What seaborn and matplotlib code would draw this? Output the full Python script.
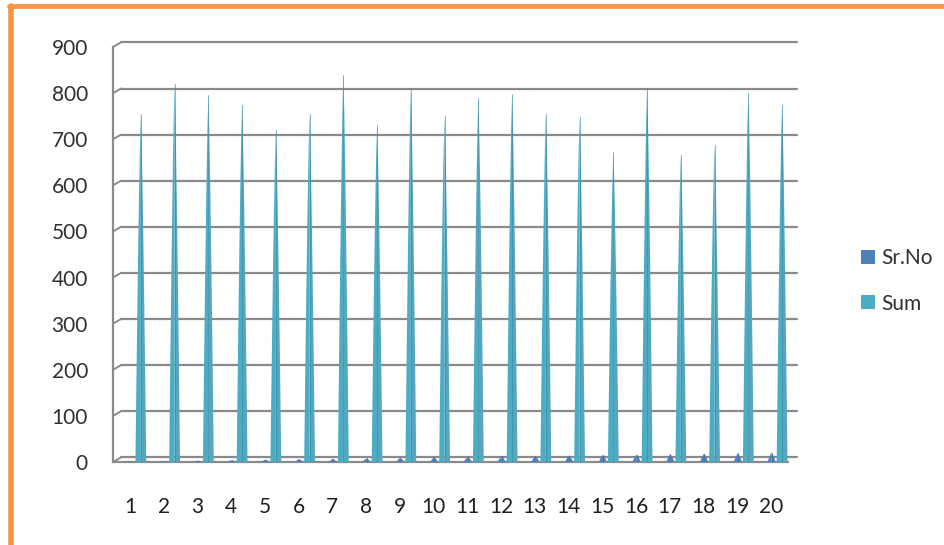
import numpy as np
import pandas as pd
import matplotlib
matplotlib.use("Agg")
import matplotlib.pyplot as plt
import matplotlib.patches as mpatches
from matplotlib.lines import Line2D
from matplotlib.transforms import blended_transform_factory
import seaborn as sns

# data
CATEGORIES = [str(i) for i in range(1, 21)]
SR_NO = [1, 2, 3, 4, 5, 6, 7, 8, 9, 10, 11, 12, 13, 14, 15, 16, 17, 18, 19, 20]
SUM = [755, 820, 795, 775, 720, 755, 840, 730, 810, 750,
       790, 797, 755, 748, 672, 812, 665, 688, 800, 775]
SERIES = ["Sr.No", "Sum"]
COLORS = ["#4f81bd", "#4bacc6"]
Y_TICKS = list(range(0, 901, 100))

df = pd.DataFrame({
    "cat": CATEGORIES * 2,
    "value": SR_NO + SUM,
    "series": [SERIES[0]] * len(CATEGORIES) + [SERIES[1]] * len(CATEGORIES),
})

sns.set_style("white")
plt.rcParams["font.family"] = ["Lato", "DejaVu Sans"]
GRID = "#8a8a8a"
FS = 15

fig = plt.figure(figsize=(9.45, 5.45), dpi=100)
ax = fig.add_axes([113 / 945, 1 - 462 / 545, (788 - 113) / 945, (462 - 47) / 545])

sns.barplot(data=df, x="cat", y="value", hue="series", order=CATEGORIES,
            hue_order=SERIES, palette=COLORS, width=0.62, ax=ax, legend=False)

# turn each bar into a cone-like spike, shifted right a little for the 3D depth
cone_w = {COLORS[0]: 0.24, COLORS[1]: 0.32}
depth = 0.17
f = np.linspace(0, 1, 12)
prof = (1 - f) ** 0.75
for container, col in zip(ax.containers, COLORS):
    dark = "#2f86a3" if col == COLORS[1] else "#36609a"
    for bar in container:
        cx = bar.get_x() + bar.get_width() / 2 + depth
        h = bar.get_height()
        bar.remove()
        w = cone_w[col]
        left = np.column_stack([cx - prof * w / 2, f * h])
        right = np.column_stack([cx + prof[::-1] * w / 2, f[::-1] * h])
        ax.add_patch(mpatches.Polygon(np.vstack([left, [[cx, 0]]]), closed=True,
                                      facecolor=col, edgecolor="none", zorder=3))
        ax.add_patch(mpatches.Polygon(np.vstack([[[cx, 0]], right]), closed=True,
                                      facecolor=sns.desaturate(col, 0.85), edgecolor="none", zorder=3))
        ax.plot([cx, cx], [0, h], color=dark, lw=0.7, alpha=0.6, zorder=4)

ax.set_xlim(-0.5, len(CATEGORIES) - 0.5)
ax.set_ylim(0, 900)
ax.set_yticks(Y_TICKS)
ax.set_yticklabels([str(v) for v in Y_TICKS], fontsize=FS, color="#303030")
ax.set_xticks(range(len(CATEGORIES)))
ax.set_xticklabels(CATEGORIES, fontsize=FS, color="#202020")
ax.set_xlabel("")
ax.set_ylabel("")

# back-wall gridlines with a short slant from the front axis
bt = blended_transform_factory(ax.transAxes, ax.transData)
slant_x = 8 / 675
lift = 10
for v in Y_TICKS:
    ax.plot([0, slant_x], [v, v + lift], transform=bt, color=GRID, lw=1.4,
            clip_on=False, zorder=1)
    ax.plot([slant_x, 1 + 9 / 675], [v + lift, v + lift], transform=bt, color=GRID,
            lw=1.6, clip_on=False, zorder=1)

for side in ["top", "right"]:
    ax.spines[side].set_visible(False)
for side in ["left", "bottom"]:
    ax.spines[side].set_color(GRID)
    ax.spines[side].set_linewidth(1.6)

ax.tick_params(axis="y", length=5, width=1.4, color=GRID, pad=13)
ax.tick_params(axis="x", length=0, pad=25)
# category boundary ticks on the floor
ax.set_xticks(np.arange(-0.5, len(CATEGORIES), 1.0), minor=True)
ax.tick_params(axis="x", which="minor", length=5, width=1.4, color=GRID)

handles = [mpatches.Patch(facecolor=c, edgecolor="none") for c in COLORS]
fig.legend(handles, SERIES, loc="center left", bbox_to_anchor=(851 / 945, 1 - 281 / 545),
           frameon=False, fontsize=FS, handlelength=0.65, handleheight=0.65,
           handletextpad=0.3, labelspacing=1.2, borderpad=0, labelcolor="#303030")

# orange frame on the left and top
fig.add_artist(Line2D([11 / 945, 11 / 945], [0, 1 - 6 / 545], color="#f79646", lw=4))
fig.add_artist(Line2D([9 / 945, 1], [1 - 6 / 545, 1 - 6 / 545], color="#f79646", lw=3.5))

fig.savefig("out.png", dpi=100)
